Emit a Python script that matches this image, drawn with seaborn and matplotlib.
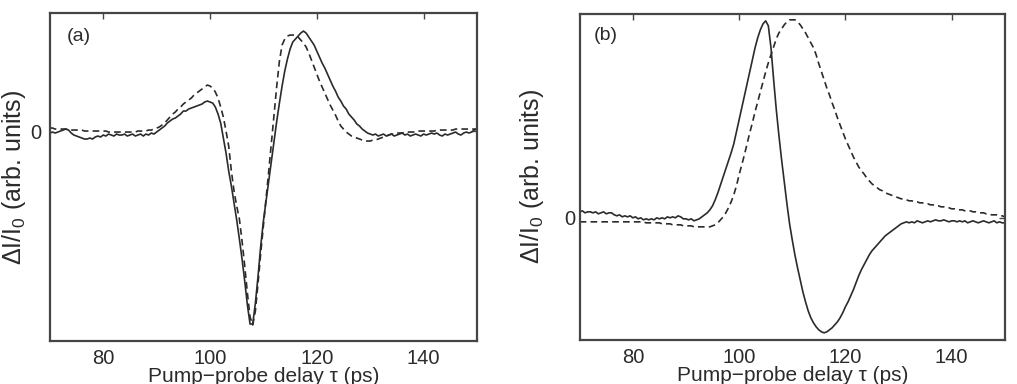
import numpy as np
import matplotlib
matplotlib.use("Agg")
import matplotlib.pyplot as plt
import seaborn as sns

# delay axis (ps), 0.5 ps sampling for every trace
tau = np.arange(70, 150.5, 0.5)

# panel (a): measured (solid) and simulated (dashed), arb. units
a_meas = [
    -0.02, -0.01, -0.02, -0.01, 0.00, 0.01, 0.02, 0.01, -0.02, -0.04,
    -0.05, -0.06, -0.07, -0.08, -0.08, -0.07, -0.08, -0.06, -0.05, -0.06,
    -0.04, -0.05, -0.03, -0.04, -0.05, -0.03, -0.04, -0.04, -0.03, -0.05,
    -0.04, -0.03, -0.05, -0.04, -0.03, -0.05, -0.03, -0.04, -0.02, -0.03,
    -0.01, 0.01, 0.03, 0.05, 0.08, 0.10, 0.12, 0.13, 0.15, 0.17,
    0.20, 0.20, 0.22, 0.23, 0.24, 0.25, 0.26, 0.27, 0.29, 0.30,
    0.29, 0.28, 0.24, 0.17, 0.08, -0.07, -0.22, -0.40, -0.55, -0.72,
    -0.89, -1.08, -1.28, -1.50, -1.74, -1.93, -1.93, -1.72, -1.45, -1.15,
    -0.90, -0.70, -0.50, -0.30, -0.10, 0.10, 0.28, 0.45, 0.60, 0.72,
    0.82, 0.89, 0.92, 0.95, 0.98, 1.00, 0.98, 0.94, 0.90, 0.86,
    0.80, 0.74, 0.68, 0.63, 0.57, 0.51, 0.45, 0.40, 0.34, 0.30,
    0.25, 0.22, 0.17, 0.14, 0.11, 0.07, 0.05, 0.02, 0.00, -0.02,
    -0.03, -0.04, -0.03, -0.05, -0.04, -0.03, -0.05, -0.04, -0.03, -0.05,
    -0.04, -0.03, -0.02, -0.04, -0.03, -0.05, -0.04, -0.03, -0.04, -0.05,
    -0.03, -0.04, -0.03, -0.02, -0.03, -0.02, -0.04, -0.05, -0.03, -0.04,
    -0.03, -0.02, -0.01, -0.03, -0.04, -0.02, -0.01, -0.02, -0.01, 0.01,
    0.02,
]
a_sim = [
    0.03, 0.03, 0.02, 0.02, 0.02, 0.02, 0.02, 0.01, 0.01, 0.01,
    0.01, 0.01, 0.01, 0.00, 0.00, 0.00, 0.00, 0.00, 0.00, 0.00,
    0.00, 0.00, -0.01, -0.01, -0.01, -0.01, -0.01, -0.01, -0.01, -0.01,
    -0.01, -0.01, -0.01, 0.00, 0.00, 0.00, 0.00, 0.01, 0.01, 0.02,
    0.03, 0.04, 0.06, 0.08, 0.11, 0.14, 0.17, 0.19, 0.22, 0.24,
    0.27, 0.29, 0.31, 0.33, 0.36, 0.38, 0.40, 0.42, 0.44, 0.46,
    0.45, 0.43, 0.39, 0.33, 0.24, 0.14, 0.00, -0.15, -0.40, -0.60,
    -0.75, -0.88, -1.10, -1.35, -1.62, -1.86, -1.94, -1.80, -1.52, -1.22,
    -0.95, -0.68, -0.40, -0.12, 0.17, 0.45, 0.70, 0.86, 0.92, 0.95,
    0.96, 0.96, 0.96, 0.94, 0.91, 0.88, 0.84, 0.78, 0.71, 0.64,
    0.57, 0.50, 0.44, 0.38, 0.32, 0.26, 0.21, 0.16, 0.10, 0.05,
    0.02, -0.01, -0.03, -0.05, -0.06, -0.07, -0.08, -0.09, -0.10, -0.10,
    -0.10, -0.09, -0.09, -0.08, -0.07, -0.06, -0.05, -0.04, -0.03, -0.03,
    -0.02, -0.02, -0.02, -0.01, -0.01, -0.01, -0.01, -0.01, 0.00, 0.00,
    0.00, 0.00, 0.00, 0.00, 0.00, 0.01, 0.01, 0.01, 0.01, 0.01,
    0.01, 0.01, 0.02, 0.02, 0.02, 0.02, 0.02, 0.02, 0.02, 0.02,
    0.02,
]

# panel (b)
b_meas = [
    0.06, 0.07, 0.05, 0.06, 0.06, 0.05, 0.06, 0.04, 0.05, 0.06,
    0.04, 0.05, 0.05, 0.03, 0.02, 0.03, 0.01, 0.02, 0.01, 0.02,
    0.00, 0.01, -0.01, 0.00, -0.02, -0.01, -0.02, -0.01, -0.02, 0.00,
    -0.01, 0.00, -0.01, 0.01, 0.00, 0.01, 0.00, 0.02, 0.01, -0.01,
    -0.01, -0.02, -0.01, -0.03, -0.02, -0.01, 0.01, 0.03, 0.05, 0.08,
    0.12, 0.18, 0.25, 0.33, 0.41, 0.49, 0.57, 0.65, 0.74, 0.86,
    0.98, 1.10, 1.22, 1.34, 1.46, 1.58, 1.70, 1.80, 1.88, 1.94,
    1.97, 1.92, 1.70, 1.38, 1.08, 0.82, 0.58, 0.36, 0.14, -0.06,
    -0.22, -0.37, -0.50, -0.62, -0.74, -0.84, -0.93, -1.00, -1.05, -1.09,
    -1.12, -1.14, -1.15, -1.14, -1.12, -1.10, -1.07, -1.04, -1.00, -0.95,
    -0.89, -0.84, -0.78, -0.72, -0.65, -0.58, -0.52, -0.47, -0.42, -0.37,
    -0.33, -0.30, -0.27, -0.24, -0.21, -0.18, -0.16, -0.14, -0.12, -0.10,
    -0.08, -0.06, -0.05, -0.04, -0.05, -0.04, -0.05, -0.03, -0.04, -0.05,
    -0.04, -0.03, -0.04, -0.03, -0.02, -0.03, -0.03, -0.02, -0.03, -0.04,
    -0.03, -0.03, -0.04, -0.03, -0.04, -0.03, -0.05, -0.04, -0.03, -0.04,
    -0.05, -0.04, -0.03, -0.04, -0.05, -0.04, -0.03, -0.05, -0.04, -0.05,
    -0.05,
]
b_sim = [
    -0.04, -0.04, -0.04, -0.04, -0.04, -0.04, -0.04, -0.04, -0.04, -0.04,
    -0.04, -0.04, -0.04, -0.04, -0.04, -0.04, -0.04, -0.04, -0.04, -0.04,
    -0.04, -0.04, -0.04, -0.04, -0.04, -0.05, -0.05, -0.05, -0.05, -0.05,
    -0.05, -0.06, -0.06, -0.06, -0.06, -0.07, -0.07, -0.07, -0.07, -0.08,
    -0.08, -0.08, -0.08, -0.09, -0.09, -0.09, -0.09, -0.09, -0.09, -0.09,
    -0.08, -0.07, -0.05, -0.02, 0.01, 0.05, 0.10, 0.16, 0.23, 0.32,
    0.43, 0.53, 0.63, 0.74, 0.85, 0.95, 1.06, 1.16, 1.26, 1.36,
    1.46, 1.55, 1.63, 1.71, 1.79, 1.85, 1.89, 1.93, 1.96, 1.98,
    1.98, 1.98, 1.96, 1.93, 1.89, 1.85, 1.80, 1.75, 1.70, 1.63,
    1.54, 1.46, 1.38, 1.30, 1.23, 1.15, 1.08, 1.00, 0.93, 0.86,
    0.79, 0.73, 0.67, 0.61, 0.56, 0.51, 0.47, 0.44, 0.40, 0.37,
    0.34, 0.32, 0.30, 0.28, 0.27, 0.25, 0.24, 0.23, 0.22, 0.21,
    0.20, 0.19, 0.19, 0.18, 0.17, 0.17, 0.16, 0.16, 0.15, 0.15,
    0.14, 0.14, 0.13, 0.13, 0.12, 0.12, 0.11, 0.11, 0.10, 0.10,
    0.09, 0.09, 0.08, 0.08, 0.08, 0.07, 0.07, 0.07, 0.06, 0.06,
    0.05, 0.05, 0.05, 0.04, 0.04, 0.03, 0.03, 0.03, 0.02, 0.02,
    0.01,
]

xticks = [80, 100, 120, 140]
panel_labels = ["(a)", "(b)"]
xlabel = "Pump\u2212probe delay \u03c4 (ps)"
ylabel = "\u0394I/I$_0$ (arb. units)"

sns.set_theme(style="white")
plt.rcParams["font.family"] = ["Liberation Sans", "DejaVu Sans"]
plt.rcParams["mathtext.fontset"] = "custom"
plt.rcParams["mathtext.rm"] = "Liberation Sans"
plt.rcParams["mathtext.it"] = "Liberation Sans:italic"

ink = "#2b2b2b"
frame = "#454545"

fig = plt.figure(figsize=(10.17, 3.84), dpi=100)
ax_a = fig.add_axes([0.049, 0.112, 0.420, 0.854])
ax_b = fig.add_axes([0.570, 0.115, 0.418, 0.849])

# axes, y-limits, y tick pad, ylabel x (axes frac), panel label position
panels = [
    (ax_a, a_meas, a_sim, (-2.10, 1.18), 6, -0.052, (0.040, 0.955)),
    (ax_b, b_meas, b_sim, (-1.22, 2.04), 3, -0.080, (0.033, 0.960)),
]

for i, (ax, meas, sim, ylim, ypad, ylab_x, lab_xy) in enumerate(panels):
    sns.lineplot(x=tau, y=sim, ax=ax, color=ink, lw=1.2,
                 linestyle=(0, (4, 2.5)), estimator=None, sort=False)
    sns.lineplot(x=tau, y=meas, ax=ax, color=ink, lw=1.2,
                 estimator=None, sort=False)

    ax.set_xlim(70, 150)
    ax.set_ylim(*ylim)
    ax.set_xticks(xticks)
    ax.set_yticks([0])
    ax.set_yticklabels(["0"])

    ax.tick_params(direction="in", length=4, width=1.0, color=frame,
                   labelsize=14.5, labelcolor=ink, top=True, right=True, pad=6)
    ax.tick_params(axis="y", pad=ypad)
    for sp in ax.spines.values():
        sp.set_color(frame)
        sp.set_linewidth(1.6)

    ax.set_xlabel(xlabel, fontsize=15, color=ink, labelpad=-1)
    ax.set_ylabel(ylabel, fontsize=18, color=ink)
    ax.yaxis.set_label_coords(ylab_x, 0.5)

    ax.text(lab_xy[0], lab_xy[1], panel_labels[i], transform=ax.transAxes,
            ha="left", va="top", fontsize=14, color=ink)

fig.savefig("out.png", dpi=100)
